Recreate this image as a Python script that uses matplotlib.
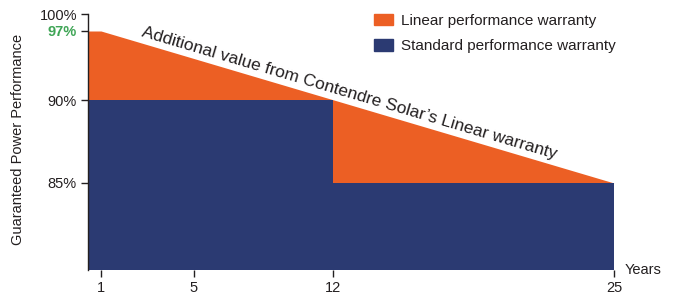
# warranty comparison chart: linear vs standard performance warranty

import numpy as np
import matplotlib
matplotlib.use("Agg")
import matplotlib.pyplot as plt
import matplotlib.patches as mpatches

plt.rcParams['font.family'] = ['Liberation Sans', 'DejaVu Sans']

# data
year_ticks = [1, 5, 12, 25]
perf_ticks = [85, 90, 97, 100]
perf_labels = ['85%', '90%', '97%', '100%']

linear_years = [1, 25]
linear_perf = [97, 85]

standard_years = [1, 12, 25]
standard_perf = [90, 85, 85]

series_names = ['Linear performance warranty', 'Standard performance warranty']
note = "Additional value from Contendre Solar\u2019s Linear warranty"

orange = '#ec5f24'
navy = '#2b3a72'
green = '#3fa556'
text_col = '#231f20'

# the chart is schematic, so the axes are not evenly spaced
x_vals = [0, 1, 5, 12, 25, 26]
x_pos = [78, 101, 194, 333, 614, 636]
y_vals = [75, 80, 85, 90, 97, 100, 105]
y_pos = [-87, 0, 87, 170, 239, 256, 300]

def fx(v):
    return np.interp(v, x_vals, x_pos)

def fx_inv(p):
    return np.interp(p, x_pos, x_vals)

def fy(v):
    return np.interp(v, y_vals, y_pos)

def fy_inv(p):
    return np.interp(p, y_pos, y_vals)

fig = plt.figure(figsize=(6.81, 2.97), dpi=100)
ax = fig.add_axes([88 / 681, 27 / 297, (614 - 88) / 681, (270 - 14) / 297])
ax.set_xscale('function', functions=(fx, fx_inv))
ax.set_yscale('function', functions=(fy, fy_inv))

x0 = fx_inv(88)
y0 = 80
ax.set_xlim(x0, 25)
ax.set_ylim(y0, 100)

# orange linear warranty area (flat before year 1), navy goes over its lower part
ax.fill_between([x0] + linear_years, [linear_perf[0]] + linear_perf, min(standard_perf),
                color=orange, lw=0)
# navy standard warranty step
ax.fill_between([x0] + standard_years[1:], standard_perf, y0,
                step='post', color=navy, lw=0)

# axes styling
for s in ['top', 'right', 'bottom']:
    ax.spines[s].set_visible(False)
ax.spines['left'].set_color(text_col)
ax.spines['left'].set_linewidth(1.0)
ax.set_xticks(year_ticks)
ax.set_xticklabels([str(y) for y in year_ticks])
ax.set_yticks(perf_ticks)
ax.set_yticklabels(perf_labels)
ax.tick_params(axis='both', length=5, width=1, color=text_col, labelsize=10.5,
               labelcolor=text_col, pad=3)
ax.minorticks_off()
for lab in ax.get_yticklabels():
    if lab.get_text() == '97%':
        lab.set_color(green)
        lab.set_fontweight('bold')

ax.set_ylabel('Guaranteed Power Performance', fontsize=10.5, color=text_col)
ax.yaxis.set_label_coords(-0.12, 0.51)
ax.text(1.02, 0.0, 'Years', transform=ax.transAxes, fontsize=10.5,
        color=text_col, ha='left', va='center')

# slanted note along the linear line
fig.canvas.draw()
p1 = ax.transData.transform((linear_years[0], linear_perf[0]))
p2 = ax.transData.transform((linear_years[1], linear_perf[1]))
angle = np.degrees(np.arctan2(p2[1] - p1[1], p2[0] - p1[0]))
ax.text(2.7, 96.5, note, rotation=angle, rotation_mode='anchor',
        ha='left', va='baseline', fontsize=12.5, color=text_col)

# legend
handles = [mpatches.Patch(color=orange, label=series_names[0]),
           mpatches.Patch(color=navy, label=series_names[1])]
fig.legend(handles=handles, loc='upper left', bbox_to_anchor=(366 / 681, 1 - 6 / 297),
           frameon=False, fontsize=11, handlelength=1.3, handleheight=0.8,
           handletextpad=0.5, labelspacing=0.75, borderpad=0, labelcolor=text_col)

fig.savefig('out.png', dpi=100)
